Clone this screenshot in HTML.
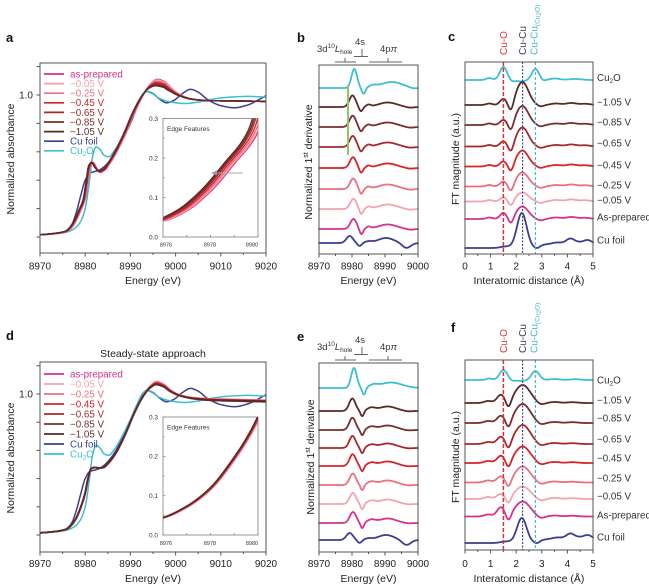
<!DOCTYPE html>
<html><head><meta charset="utf-8">
<style>
html,body{margin:0;padding:0;background:#fff;width:649px;height:587px;overflow:hidden}
svg{display:block;font-family:"Liberation Sans",Arial,sans-serif}
.lab{font-size:13px;font-weight:bold;fill:#111}
.tl{font-size:10px;fill:#222;text-anchor:middle}
.tt{font-size:10.5px;fill:#222;text-anchor:middle}
.lg{font-size:9.8px}
.in{font-size:6.5px;fill:#333}
.iy{font-size:6.5px;fill:#333;text-anchor:end}
.ix{font-size:5.5px;fill:#333;text-anchor:middle}
.rl{font-size:9.8px;fill:#333}
.an{font-size:9.5px;fill:#333}
</style></head><body>
<svg id="s" width="649" height="587" viewBox="0 0 649 587" xmlns="http://www.w3.org/2000/svg">
<defs>
<clipPath id="cA"><rect x="40" y="63" width="226" height="190"/></clipPath>
<clipPath id="cD"><rect x="40" y="362" width="226" height="190"/></clipPath>
<clipPath id="cAi"><rect x="163" y="118.5" width="95" height="118.5"/></clipPath>
<clipPath id="cDi"><rect x="163" y="417" width="95" height="118"/></clipPath>
</defs>
<rect width="649" height="587" fill="#fff"/>

<!-- ===== Panel a ===== -->
<g id="A"></g>
<g stroke-width="1.7">
<line x1="44" y1="74" x2="64" y2="74" stroke="#d8308c"/>
<line x1="44" y1="83.6" x2="64" y2="83.6" stroke="#f4a3ae"/>
<line x1="44" y1="93.2" x2="64" y2="93.2" stroke="#eb6f7c"/>
<line x1="44" y1="102.8" x2="64" y2="102.8" stroke="#d8232a"/>
<line x1="44" y1="112.4" x2="64" y2="112.4" stroke="#a8282a"/>
<line x1="44" y1="122" x2="64" y2="122" stroke="#7a2d2d"/>
<line x1="44" y1="131.6" x2="64" y2="131.6" stroke="#5a2a28"/>
<line x1="44" y1="141.2" x2="64" y2="141.2" stroke="#3b3f8f"/>
<line x1="44" y1="150.8" x2="64" y2="150.8" stroke="#3cbfcf"/>
</g>
<text class="lg" x="70" y="77.4" fill="#d8308c">as-prepared</text>
<text class="lg" x="70" y="87" fill="#f4a3ae">−0.05 V</text>
<text class="lg" x="70" y="96.6" fill="#eb6f7c">−0.25 V</text>
<text class="lg" x="70" y="106.2" fill="#d8232a">−0.45 V</text>
<text class="lg" x="70" y="115.8" fill="#a8282a">−0.65 V</text>
<text class="lg" x="70" y="125.4" fill="#7a2d2d">−0.85 V</text>
<text class="lg" x="70" y="135" fill="#5a3330">−1.05 V</text>
<text class="lg" x="70" y="144.6" fill="#3b3f8f">Cu foil</text>
<text class="lg" x="70" y="154.2" fill="#3cbfcf">Cu<tspan font-size="6.5" dy="2">2</tspan><tspan dy="-2">O</tspan></text>
<rect x="163" y="118.5" width="95" height="118.5" fill="#fff" stroke="#999" stroke-width="1"/>
<g id="Ai"></g>
<text class="in" x="167" y="131">Edge Features</text>
<line x1="216" y1="173" x2="243" y2="173" stroke="#aaa" stroke-width="1"/>
<polygon points="211,173 217,170.5 217,175.5" fill="#999"/>
<text class="iy" x="158" y="120.8">0.3</text>
<text class="iy" x="158" y="160.3">0.2</text>
<text class="iy" x="158" y="199.8">0.1</text>
<text class="iy" x="158" y="239.3">0.0</text>
<text class="ix" x="166" y="246.5">8976</text>
<text class="ix" x="210" y="246.5">8978</text>
<text class="ix" x="252" y="246.5">8980</text>
<rect x="40" y="63" width="226" height="190" fill="none" stroke="#555" stroke-width="1"/>
<text class="lab" x="6" y="42">a</text>
<text class="tl" x="40" y="269.5">8970</text>
<text class="tl" x="85.2" y="269.5">8980</text>
<text class="tl" x="130.4" y="269.5">8990</text>
<text class="tl" x="175.6" y="269.5">9000</text>
<text class="tl" x="220.8" y="269.5">9010</text>
<text class="tl" x="266" y="269.5">9020</text>
<text class="tt" x="153" y="284">Energy (eV)</text>
<text class="tl" x="33" y="98.5" style="text-anchor:end">1.0</text>
<text class="tt" transform="translate(14,159) rotate(-90)">Normalized absorbance</text>

<!-- ===== Panel d ===== -->
<g id="D"></g>
<g stroke-width="1.7">
<line x1="44" y1="374" x2="64" y2="374" stroke="#d8308c"/>
<line x1="44" y1="384" x2="64" y2="384" stroke="#f4a3ae"/>
<line x1="44" y1="394" x2="64" y2="394" stroke="#eb6f7c"/>
<line x1="44" y1="404" x2="64" y2="404" stroke="#d8232a"/>
<line x1="44" y1="414" x2="64" y2="414" stroke="#a8282a"/>
<line x1="44" y1="424" x2="64" y2="424" stroke="#7a2d2d"/>
<line x1="44" y1="434" x2="64" y2="434" stroke="#5a2a28"/>
<line x1="44" y1="444" x2="64" y2="444" stroke="#3b3f8f"/>
<line x1="44" y1="454" x2="64" y2="454" stroke="#3cbfcf"/>
</g>
<text class="lg" x="70" y="377.4" fill="#d8308c">as-prepared</text>
<text class="lg" x="70" y="387.4" fill="#f4a3ae">−0.05 V</text>
<text class="lg" x="70" y="397.4" fill="#eb6f7c">−0.25 V</text>
<text class="lg" x="70" y="407.4" fill="#d8232a">−0.45 V</text>
<text class="lg" x="70" y="417.4" fill="#a8282a">−0.65 V</text>
<text class="lg" x="70" y="427.4" fill="#7a2d2d">−0.85 V</text>
<text class="lg" x="70" y="437.4" fill="#5a3330">−1.05 V</text>
<text class="lg" x="70" y="447.4" fill="#3b3f8f">Cu foil</text>
<text class="lg" x="70" y="457.4" fill="#3cbfcf">Cu<tspan font-size="6.5" dy="2">2</tspan><tspan dy="-2">O</tspan></text>
<rect x="163" y="417" width="95" height="118" fill="#fff" stroke="#999" stroke-width="1"/>
<g id="Di"></g>
<text class="in" x="167" y="429.5">Edge Features</text>
<text class="iy" x="158" y="419.3">0.3</text>
<text class="iy" x="158" y="458.6">0.2</text>
<text class="iy" x="158" y="498">0.1</text>
<text class="iy" x="158" y="537.3">0.0</text>
<text class="ix" x="166" y="545">8976</text>
<text class="ix" x="210" y="545">8978</text>
<text class="ix" x="252" y="545">8980</text>
<rect x="40" y="362" width="226" height="190" fill="none" stroke="#555" stroke-width="1"/>
<text class="lab" x="6" y="340">d</text>
<text class="tt" x="153" y="357">Steady-state approach</text>
<text class="tl" x="40" y="567">8970</text>
<text class="tl" x="85.2" y="567">8980</text>
<text class="tl" x="130.4" y="567">8990</text>
<text class="tl" x="175.6" y="567">9000</text>
<text class="tl" x="220.8" y="567">9010</text>
<text class="tl" x="266" y="567">9020</text>
<text class="tt" x="153" y="582">Energy (eV)</text>
<text class="tl" x="33" y="397.5" style="text-anchor:end">1.0</text>
<text class="tt" transform="translate(14,458) rotate(-90)">Normalized absorbance</text>

<!-- ===== Panel b ===== -->
<g id="B"></g>
<rect x="319" y="65" width="99" height="189" fill="none" stroke="#555" stroke-width="1"/>
<line x1="348" y1="85" x2="348" y2="155" stroke="#8cc66c" stroke-width="2"/>
<g stroke="#666" stroke-width="1">
<line x1="335" y1="62" x2="356" y2="62"/><line x1="345" y1="58" x2="345" y2="62"/>
<line x1="362" y1="49" x2="362" y2="56.5"/><line x1="354" y1="56.5" x2="368" y2="56.5"/>
<line x1="369" y1="62" x2="402" y2="62"/><line x1="388" y1="58" x2="388" y2="62"/>
</g>
<text class="an" x="317" y="52">3d<tspan font-size="6.5" dy="-4">10</tspan><tspan font-style="italic" dy="4">L</tspan><tspan font-size="6.5" dy="2">hole</tspan></text>
<text class="an" x="355" y="45">4s</text>
<text class="an" x="380" y="52">4p<tspan font-style="italic">π</tspan></text>
<text class="lab" x="297" y="42">b</text>
<text class="tl" x="319" y="269.5">8970</text>
<text class="tl" x="352" y="269.5">8980</text>
<text class="tl" x="385" y="269.5">8990</text>
<text class="tl" x="418" y="269.5">9000</text>
<text class="tt" x="368.5" y="284">Energy (eV)</text>
<text class="tt" transform="translate(312,162) rotate(-90)">Normalized 1<tspan font-size="7" dy="-4">st</tspan><tspan dy="4"> derivative</tspan></text>

<!-- ===== Panel e ===== -->
<g id="E"></g>
<rect x="319" y="363" width="99" height="189" fill="none" stroke="#555" stroke-width="1"/>
<g stroke="#666" stroke-width="1">
<line x1="335" y1="360" x2="356" y2="360"/><line x1="345" y1="356" x2="345" y2="360"/>
<line x1="362" y1="347" x2="362" y2="354.5"/><line x1="354" y1="354.5" x2="368" y2="354.5"/>
<line x1="369" y1="360" x2="402" y2="360"/><line x1="388" y1="356" x2="388" y2="360"/>
</g>
<text class="an" x="317" y="350">3d<tspan font-size="6.5" dy="-4">10</tspan><tspan font-style="italic" dy="4">L</tspan><tspan font-size="6.5" dy="2">hole</tspan></text>
<text class="an" x="355" y="343">4s</text>
<text class="an" x="380" y="350">4p<tspan font-style="italic">π</tspan></text>
<text class="lab" x="297" y="341">e</text>
<text class="tl" x="319" y="567">8970</text>
<text class="tl" x="352" y="567">8980</text>
<text class="tl" x="385" y="567">8990</text>
<text class="tl" x="418" y="567">9000</text>
<text class="tt" x="368.5" y="582">Energy (eV)</text>
<text class="tt" transform="translate(314,457) rotate(-90)">Normalized 1<tspan font-size="7" dy="-4">st</tspan><tspan dy="4"> derivative</tspan></text>

<!-- ===== Panel c ===== -->
<g id="C"></g>
<g id="Cd"></g>
<rect x="465" y="62" width="128" height="192" fill="none" stroke="#555" stroke-width="1"/>
<text class="lab" x="448" y="41">c</text>
<text font-size="10" fill="#e03030" transform="translate(507,55) rotate(-90)">Cu-O</text>
<text font-size="10" fill="#3a3a5a" transform="translate(526,55) rotate(-90)">Cu-Cu</text>
<text font-size="10" fill="#40b8c8" transform="translate(537.5,55) rotate(-90)">Cu-Cu<tspan font-size="6.5" dy="2">(Cu<tspan dy="1.5">2</tspan><tspan dy="-1.5">O)</tspan></tspan></text>
<text class="rl" x="597" y="81">Cu<tspan font-size="6.5" dy="2">2</tspan><tspan dy="-2">O</tspan></text>
<text class="rl" x="597" y="105.5">−1.05 V</text>
<text class="rl" x="597" y="125.5">−0.85 V</text>
<text class="rl" x="597" y="146.5">−0.65 V</text>
<text class="rl" x="597" y="168.5">−0.45 V</text>
<text class="rl" x="597" y="188.5">−0.25 V</text>
<text class="rl" x="597" y="203.5">−0.05 V</text>
<text class="rl" x="597" y="220.5">As-prepared</text>
<text class="rl" x="597" y="243.5">Cu foil</text>
<text class="tl" x="465" y="269.5">0</text>
<text class="tl" x="490.6" y="269.5">1</text>
<text class="tl" x="516.2" y="269.5">2</text>
<text class="tl" x="541.8" y="269.5">3</text>
<text class="tl" x="567.4" y="269.5">4</text>
<text class="tl" x="593" y="269.5">5</text>
<text class="tt" x="529" y="284">Interatomic distance (Å)</text>
<text class="tt" transform="translate(459,159) rotate(-90)">FT magnitude (a.u.)</text>

<!-- ===== Panel f ===== -->
<g id="F"></g>
<g id="Fd"></g>
<rect x="465" y="360" width="128" height="190" fill="none" stroke="#555" stroke-width="1"/>
<text class="lab" x="451" y="332">f</text>
<text font-size="10" fill="#e03030" transform="translate(507,353) rotate(-90)">Cu-O</text>
<text font-size="10" fill="#3a3a5a" transform="translate(526,353) rotate(-90)">Cu-Cu</text>
<text font-size="10" fill="#40b8c8" transform="translate(537.5,353) rotate(-90)">Cu-Cu<tspan font-size="6.5" dy="2">(Cu<tspan dy="1.5">2</tspan><tspan dy="-1.5">O)</tspan></tspan></text>
<text class="rl" x="597" y="383.5">Cu<tspan font-size="6.5" dy="2">2</tspan><tspan dy="-2">O</tspan></text>
<text class="rl" x="597" y="403.5">−1.05 V</text>
<text class="rl" x="597" y="421.5">−0.85 V</text>
<text class="rl" x="597" y="442.5">−0.65 V</text>
<text class="rl" x="597" y="461.5">−0.45 V</text>
<text class="rl" x="597" y="481.5">−0.25 V</text>
<text class="rl" x="597" y="499.5">−0.05 V</text>
<text class="rl" x="597" y="518.5">As-prepared</text>
<text class="rl" x="597" y="540.5">Cu foil</text>
<text class="tl" x="465" y="567">0</text>
<text class="tl" x="490.6" y="567">1</text>
<text class="tl" x="516.2" y="567">2</text>
<text class="tl" x="541.8" y="567">3</text>
<text class="tl" x="567.4" y="567">4</text>
<text class="tl" x="593" y="567">5</text>
<text class="tt" x="529" y="582">Interatomic distance (Å)</text>
<text class="tt" transform="translate(459,457) rotate(-90)">FT magnitude (a.u.)</text>
<g id="T"></g>
</svg>
<script>
(function(){
const NS='http://www.w3.org/2000/svg';
const $=id=>document.getElementById(id);
function g(x,c,s){const u=(x-c)/s;return Math.exp(-0.5*u*u);}
function sig(x,c,s){return 1/(1+Math.exp(-(x-c)/s));}
function mono(P){const n=P.length,xs=P.map(p=>p[0]),ys=P.map(p=>p[1]),d=[],m=new Array(n);
for(let i=0;i<n-1;i++)d.push((ys[i+1]-ys[i])/(xs[i+1]-xs[i]));
m[0]=d[0];m[n-1]=d[n-2];
for(let i=1;i<n-1;i++){if(d[i-1]*d[i]<=0)m[i]=0;else{const h0=xs[i]-xs[i-1],h1=xs[i+1]-xs[i],w1=2*h1+h0,w2=h1+2*h0;m[i]=(w1+w2)/(w1/d[i-1]+w2/d[i]);}}
return x=>{if(x<=xs[0])return ys[0];if(x>=xs[n-1])return ys[n-1];let i=0;while(x>xs[i+1])i++;const h=xs[i+1]-xs[i],t=(x-xs[i])/h,t2=t*t,t3=t2*t;return(2*t3-3*t2+1)*ys[i]+(t3-2*t2+t)*h*m[i]+(-2*t3+3*t2)*ys[i+1]+(t3-t2)*h*m[i+1];};}
function plot(par,f,x0,x1,n,X,Y,col,w,clip){let d='';for(let i=0;i<=n;i++){const e=x0+(x1-x0)*i/n;d+=(i?'L':'M')+X(e).toFixed(2)+' '+Y(f(e)).toFixed(2);}
const p=document.createElementNS(NS,'path');p.setAttribute('d',d);p.setAttribute('fill','none');p.setAttribute('stroke',col);p.setAttribute('stroke-width',w);p.setAttribute('stroke-linejoin','round');p.setAttribute('stroke-linecap','round');if(clip)p.setAttribute('clip-path','url(#'+clip+')');par.appendChild(p);}
function ln(par,x1,y1,x2,y2,col,w,dash){const l=document.createElementNS(NS,'line');l.setAttribute('x1',x1);l.setAttribute('y1',y1);l.setAttribute('x2',x2);l.setAttribute('y2',y2);l.setAttribute('stroke',col);l.setAttribute('stroke-width',w);if(dash)l.setAttribute('stroke-dasharray',dash);par.appendChild(l);}

const RC=['#d8308c','#f4a3ae','#eb6f7c','#d8232a','#a8282a','#7a2d2d','#5a2a28'];
const TT=[0,0.12,0.3,0.5,0.7,0.85,1];
const NAVY='#3b3f8f',CYAN='#3cbfcf';

const redA=mono([[8970,0.015],[8972,0.02],[8974,0.027],[8975,0.032],[8976,0.04],[8977,0.066],[8978,0.115],[8979,0.185],[8980,0.265],[8980.6,0.38],[8981.2,0.5],[8981.8,0.525],[8982.6,0.49],[8983.4,0.465],[8984.4,0.475],[8985.5,0.52],[8987,0.6],[8989,0.73],[8991,0.88],[8993,1.0],[8994.5,1.06],[8996,1.085],[8997.5,1.075],[8999,1.04],[9001,1.0],[9004,0.97],[9008,0.96],[9014,0.958],[9020,0.955]]);
const redD=mono([[8970,0.015],[8972,0.02],[8974,0.027],[8975,0.033],[8976,0.043],[8977,0.07],[8978,0.115],[8979,0.19],[8980,0.29],[8980.7,0.4],[8981.4,0.47],[8982.2,0.48],[8983,0.475],[8984,0.478],[8985.2,0.51],[8987,0.59],[8989,0.72],[8991,0.87],[8993,0.99],[8994.5,1.05],[8995.8,1.075],[8997.3,1.06],[8999,1.02],[9001,0.99],[9004,0.97],[9008,0.96],[9014,0.955],[9020,0.95]]);
const navy=mono([[8970,0.015],[8973,0.022],[8975,0.033],[8976,0.048],[8977,0.085],[8978,0.17],[8979,0.29],[8980,0.4],[8981,0.45],[8982,0.46],[8983,0.47],[8984,0.49],[8986,0.56],[8988,0.67],[8990,0.8],[8992,0.95],[8993.6,1.025],[8995,1.01],[8996.5,0.97],[8998,0.945],[8999.5,0.96],[9001.5,1.01],[9003.3,1.04],[9005,1.02],[9007,0.97],[9010,0.925],[9013,0.91],[9016,0.93],[9018,0.96],[9020,0.995]]);
const cyan=mono([[8970,0.015],[8974,0.025],[8976,0.035],[8977,0.048],[8978,0.07],[8979,0.11],[8980,0.2],[8980.8,0.36],[8981.6,0.56],[8982.4,0.635],[8983.2,0.62],[8984.2,0.575],[8985.2,0.565],[8986.5,0.61],[8988,0.69],[8990,0.82],[8991.5,0.93],[8992.6,1.0],[8993.5,1.025],[8994.8,1.01],[8996.5,0.975],[8999,0.95],[9002,0.94],[9005,0.95],[9008,0.97],[9012,0.985],[9016,0.99],[9020,0.985]]);

// Panel a
const XA=E=>40+(E-8970)*4.52, YA=v=>237-v*142;
const A=$('A');
plot(A,navy,8970,9020,500,XA,YA,NAVY,1.5,'cA');
plot(A,cyan,8970,9020,500,XA,YA,CYAN,1.5,'cA');
const fa=t=>E=>redA(Math.min(9020,E+0.45*t))+(0.025-0.045*t)*g(E,8996,2.2)+(0.012*t-0.012)*g(E,8983.2,0.7);
for(let i=0;i<7;i++)plot(A,fa(TT[i]),8970,9020,500,XA,YA,RC[i],1.5,'cA');
const XI=E=>163+(E-8976)*23.75, YI=v=>237-v*395;
const Ai=$('Ai');
for(let i=0;i<7;i++)plot(Ai,fa(TT[i]),8976,8980.2,200,XI,YI,RC[i],1.4,'cAi');

// Panel d
const YD=v=>535-v*141;
const D=$('D');
plot(D,navy,8970,9020,500,XA,YD,NAVY,1.5,'cD');
plot(D,cyan,8970,9020,500,XA,YD,CYAN,1.5,'cD');
const fd=t=>E=>redD(Math.min(9020,E+0.1*t))+(0.012-0.02*t)*g(E,8996,2.2)+0.006*Math.sin(t*6)*sig(E,9003,2);
for(let i=0;i<7;i++)plot(D,fd(TT[i]),8970,9020,500,XA,YD,RC[i],1.7,'cD');
const YDI=v=>535-v*393;
const Di=$('Di');
for(let i=0;i<7;i++)plot(Di,fd(TT[i]),8976,8980.2,200,XI,YDI,RC[i],1.5,'cDi');

// Panel b
const XB=E=>319+(E-8970)*3.3;
const B=$('B');
const baseB=[229,209,189,168,147,127,107];
function fRb(t){const pc=8980.45-0.3*t,Am=10+1.5*t;return E=>Am*g(E,pc,0.95)-(5.5-t)*g(E,8982.8-0.1*t,0.55)+2*g(E,8985,0.7)+4.5*g(E,8990.8,2.8)-0.8*g(E,8997.5,1.2);}
const cyB=E=>19*g(E,8980.7,0.85)-6*g(E,8983.5,0.55)+2*g(E,8986.3,1.1)+6*g(E,8992,3.3)-1*g(E,8998.5,1.2);
const nvB=E=>7*g(E,8979.3,1.0)-3*g(E,8982.3,0.65)+1.5*g(E,8985,1.1)+5*g(E,8990.3,2.4)-5*g(E,8996.5,1.3);
plot(B,cyB,8970,9000,300,XB,v=>88-v,CYAN,1.8);
for(let i=6;i>=0;i--){const b=baseB[i];plot(B,fRb(TT[i]),8970,9000,300,XB,v=>b-v,RC[i],1.8);}
plot(B,nvB,8970,9000,300,XB,v=>243-v,NAVY,1.8);

// Panel e
const Ee=$('E');
const baseE=[523,504,485,466,448,430,411];
function fRe(t){const pc=8980.3-0.2*t,Am=11+1.5*t;return E=>Am*g(E,pc,0.95)-5.5*g(E,8983.1,0.5)+3*g(E,8985.8,1.2)+4.5*g(E,8990.8,2.6)-0.5*g(E,8997,1.2);}
const cyE=E=>20*g(E,8980.6,0.85)-7*g(E,8983.6,0.5)+2.5*g(E,8986.5,1.2)+5.5*g(E,8991.8,3.4);
plot(Ee,cyE,8970,9000,300,XB,v=>388-v,CYAN,1.8);
for(let i=6;i>=0;i--){const b=baseE[i];plot(Ee,fRe(TT[i]),8970,9000,300,XB,v=>b-v,RC[i],1.8);}
plot(Ee,nvB,8970,9000,300,XB,v=>540-v,NAVY,1.8);

// Panel c
const XC=r=>465+r*25.6;
const C=$('C');
const baseC=[219,201.5,186.5,166.5,146.5,125,105];
const HC=[12.5,9,14,16,19,19,23], hC=[6,4,5,5,5,5,6];
function fC(H,h1){return r=>1.5*g(r,0.95,0.12)+h1*g(r,1.5,0.13)-(3+0.25*H)*g(r,1.8,0.1)+H*g(r,2.24,0.24)-1.5*g(r,2.95,0.12)+1.5*g(r,3.55,0.2)+2*g(r,4.15,0.2)+1.2*g(r,4.7,0.2);}
const cyC=r=>2*g(r,0.95,0.12)+13*g(r,1.5,0.14)-1.5*g(r,1.85,0.1)-1.5*g(r,2.2,0.15)+11*g(r,2.75,0.14)-1*g(r,3.05,0.1)+1.5*g(r,3.5,0.2)+1*g(r,4.3,0.25);
const nvC=k=>r=>1.5*g(r,1.6,0.2)+k*g(r,2.22,0.19)-1.5*g(r,2.82,0.1)+4*sig(r,2.9,0.12)+1.5*g(r,3.6,0.18)+5.5*g(r,4.12,0.17)+1*g(r,4.45,0.12)+4*g(r,4.78,0.17);
plot(C,cyC,0,5,400,XC,v=>80-v,CYAN,1.8);
for(let i=6;i>=0;i--){const b=baseC[i];plot(C,fC(HC[i],hC[i]),0,5,400,XC,v=>b-v,RC[i],1.8);}
plot(C,nvC(35),0,5,400,XC,v=>248-v,NAVY,1.8);
const Cd=$('Cd');
ln(Cd,XC(1.5),62,XC(1.5),254,'#e03030',1.5,'4 2');
ln(Cd,XC(2.25),62,XC(2.25),254,'#44448a',1.2,'2 1.5');
ln(Cd,XC(2.75),62,XC(2.75),254,'#40c0d0',1.2,'3 2');

// Panel f
const Fp=$('F');
const baseF=[516.5,499,482.5,463,444,423,403];
const HF=[15,12.5,16,16.5,19,19,18], hF=[9,5,6,7,7,7,8];
function fF(H,h1){return r=>2*g(r,0.9,0.15)+h1*g(r,1.4,0.15)-(4+0.2*H)*g(r,1.7,0.1)+H*g(r,2.25,0.3)-2*g(r,2.95,0.15)+1*g(r,3.5,0.2)+0.8*g(r,4.2,0.2);}
const cyF=r=>1.5*g(r,0.95,0.12)+10*g(r,1.5,0.15)-1*g(r,1.85,0.1)-1*g(r,2.2,0.15)+9*g(r,2.75,0.15)+1*g(r,3.5,0.2)+0.8*g(r,4.3,0.2);
plot(Fp,cyF,0,5,400,XC,v=>380-v,CYAN,1.8);
for(let i=6;i>=0;i--){const b=baseF[i];plot(Fp,fF(HF[i],hF[i]),0,5,400,XC,v=>b-v,RC[i],1.8);}
plot(Fp,nvC(25),0,5,400,XC,v=>543-v,NAVY,1.8);
const Fd=$('Fd');
ln(Fd,XC(1.5),360,XC(1.5),550,'#e03030',1.5,'4 2');
ln(Fd,XC(2.25),360,XC(2.25),550,'#44448a',1.2,'2 1.5');
ln(Fd,XC(2.75),360,XC(2.75),550,'#40c0d0',1.2,'3 2');

// Ticks
const T=$('T'),tc='#555';
[[253],[552]].forEach(([yb])=>{for(let k=0;k<=10;k++){const x=40+k*22.6;ln(T,x,yb,x,yb+(k%2?2:3.5),tc,1);}});
[[237],[535]].forEach(([y0],j)=>{const sc=j?141:142;for(let k=0;k<=6;k++){const y=y0-k*0.2*sc;ln(T,40,y,36.5,y,tc,1);}});
[[254],[552]].forEach(([yb])=>{for(let k=0;k<=6;k++){const x=319+k*16.5;ln(T,x,yb,x,yb+(k%2?2:3.5),tc,1);}});
[[254],[550]].forEach(([yb])=>{for(let k=0;k<=10;k++){const x=465+k*12.8;ln(T,x,yb,x,yb+(k%2?2:3.5),tc,1);}});
[[237],[535]].forEach(([yb],j)=>{for(let k=0;k<=4;k++){const x=163+k*23.75;ln(T,x,yb,x,yb-2,'#888',0.8);}
 const sc=j?393:395;for(let k=0;k<=6;k++){const y=yb-k*0.05*sc;ln(T,163,y,k%2?164.5:165.5,y,'#888',0.8);}});
})();
</script>
</body></html>
